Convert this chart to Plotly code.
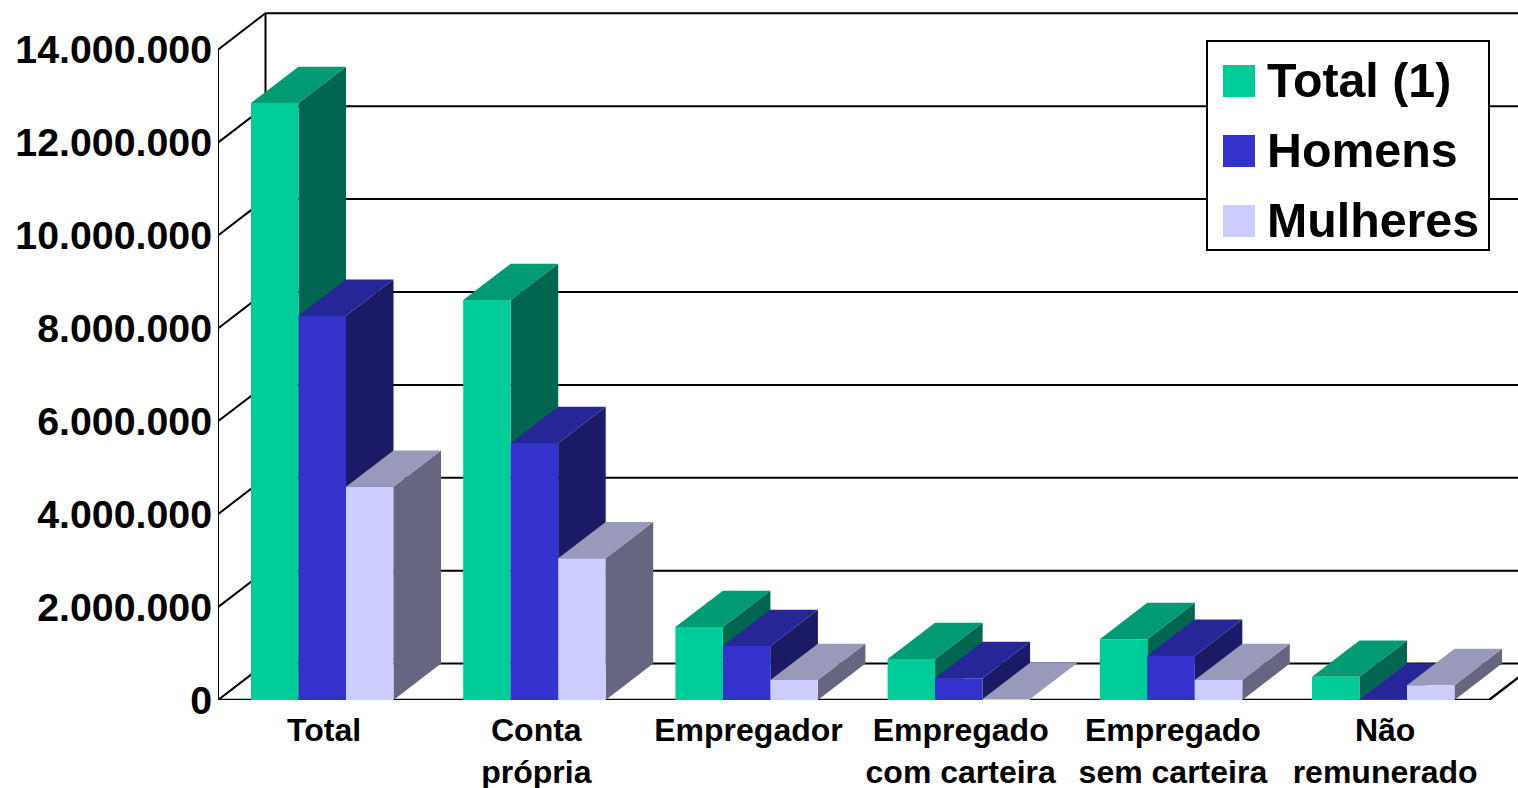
import plotly.graph_objects as go

categories = ["Total", "Conta<br>própria", "Empregador", "Empregado<br>com carteira", "Empregado<br>sem carteira", "Não<br>remunerado"]
series_names = ["Total (1)", "Homens", "Mulheres"]
total_values = [12850000, 8610000, 1570000, 880000, 1310000, 500000]
homens_values = [8270000, 5530000, 1160000, 470000, 950000, 10000]
mulheres_values = [4590000, 3050000, 430000, 20000, 430000, 320000]
tick_values = [0, 2000000, 4000000, 6000000, 8000000, 10000000, 12000000, 14000000]
tick_labels = ["0", "2.000.000", "4.000.000", "6.000.000", "8.000.000", "10.000.000", "12.000.000", "14.000.000"]
front_colors = ["#00CC99", "#3333CC", "#CCCCFF"]
top_colors = ["#009A73", "#262699", "#9999BB"]
side_colors = ["#006650", "#1A1A66", "#666680"]

W, H = 1518, 788
LEFT, BOTTOM_Y, FLOOR_RIGHT = 218, 700, 1489
PX_PER_UNIT = 212.2
PX_PER_VALUE = 46.45 / 1e6
X0, X1 = -0.5, -0.5 + (W - LEFT) / PX_PER_UNIT
FLOOR_END = X0 + (FLOOR_RIGHT - LEFT) / PX_PER_UNIT
Y1 = BOTTOM_Y / PX_PER_VALUE
DX = 47.5 / PX_PER_UNIT
DY = 36.4 / PX_PER_VALUE
BAR_W = 47.5 / PX_PER_UNIT
OFFSET0 = -0.3445

BLACK = "#000000"
FONT = "Liberation Sans"

fig = go.Figure()


def line(xs, ys, width=2):
    fig.add_trace(go.Scatter(x=xs, y=ys, mode="lines", line=dict(color=BLACK, width=width),
                             hoverinfo="skip", showlegend=False, zorder=0))


# walls and grid
wx, wy = [], []
for v in tick_values:
    wx += [X0, X0 + DX, X1, None]
    wy += [v, v + DY, v + DY, None]
line(wx, wy)
line([X0, X0], [0, tick_values[-1]])
line([X0 + DX, X0 + DX], [DY, tick_values[-1] + DY])
line([X0, FLOOR_END, FLOOR_END + DX], [0, 0, DY], 2.5)

all_values = [total_values, homens_values, mulheres_values]
for s, (name, vals) in enumerate(zip(series_names, all_values)):
    off = OFFSET0 + s * BAR_W
    sx, sy, tx, ty = [], [], [], []
    for i, v in enumerate(vals):
        l, r = i + off, i + off + BAR_W
        sx += [r, r + DX, r + DX, r, r, None]
        sy += [0, DY, v + DY, v, 0, None]
        tx += [l, r, r + DX, l + DX, l, None]
        ty += [v, v, v + DY, v + DY, v, None]
    z = 1 + 2 * s
    fig.add_trace(go.Scatter(x=sx, y=sy, mode="lines", fill="toself", fillcolor=side_colors[s],
                             line=dict(width=0), hoverinfo="skip", showlegend=False, zorder=z))
    fig.add_trace(go.Scatter(x=tx, y=ty, mode="lines", fill="toself", fillcolor=top_colors[s],
                             line=dict(width=0), hoverinfo="skip", showlegend=False, zorder=z))
    fig.add_trace(go.Bar(x=list(range(len(vals))), y=vals, name=name, width=BAR_W, offset=off,
                         marker=dict(color=front_colors[s], line=dict(width=0)),
                         showlegend=False, zorder=z + 1))

# legend box (drawn to get the large square swatches of the reference)
shapes = [dict(type="rect", xref="paper", yref="paper",
               x0=(1207 - LEFT) / (W - LEFT), x1=(1489 - LEFT) / (W - LEFT),
               y0=(BOTTOM_Y - 250) / BOTTOM_Y, y1=(BOTTOM_Y - 41) / BOTTOM_Y,
               fillcolor="white", line=dict(color=BLACK, width=2), layer="above")]
annotations = []
for s, name in enumerate(series_names):
    cy = 81 + 70 * s
    shapes.append(dict(type="rect", xref="paper", yref="paper",
                       x0=(1223 - LEFT) / (W - LEFT), x1=(1255 - LEFT) / (W - LEFT),
                       y0=(BOTTOM_Y - cy - 16) / BOTTOM_Y, y1=(BOTTOM_Y - cy + 16) / BOTTOM_Y,
                       fillcolor=front_colors[s], line=dict(width=0), layer="above"))
    annotations.append(dict(xref="paper", yref="paper", x=(1265 - LEFT) / (W - LEFT),
                            y=(BOTTOM_Y - cy + 1) / BOTTOM_Y, text=f"<b>{name}</b>", showarrow=False,
                            xanchor="left", yanchor="middle", xshift=0,
                            font=dict(family=FONT, size=48.3, color=BLACK)))

fig.update_layout(
    width=W, height=H, autosize=False,
    margin=dict(l=LEFT, r=0, t=0, b=H - BOTTOM_Y, pad=0, autoexpand=False),
    paper_bgcolor="white", plot_bgcolor="white",
    barmode="overlay", showlegend=False,
    shapes=shapes, annotations=annotations,
    xaxis=dict(range=[X0, X1], tickmode="array", tickvals=list(range(6)), automargin=False,
               ticktext=[f"<b>{c.replace('<br>', '</b><br><b>')}</b>" for c in categories],
               showgrid=False, zeroline=False, showline=False,
               ticks="outside", ticklen=2, tickcolor="rgba(0,0,0,0)", tickangle=0,
               tickfont=dict(family=FONT, size=32, color=BLACK)),
    yaxis=dict(range=[0, Y1], tickmode="array", tickvals=tick_values, automargin=False,
               ticktext=[f"<b>{t}</b>" for t in tick_labels],
               showgrid=False, zeroline=False, showline=False,
               ticks="", ticklabelstandoff=5,
               tickfont=dict(family=FONT, size=39.3, color=BLACK)),
)

fig.write_html("out.html", config=dict(displayModeBar=False),
               post_script="document.body.style.margin='0';document.body.style.overflow='hidden';")
